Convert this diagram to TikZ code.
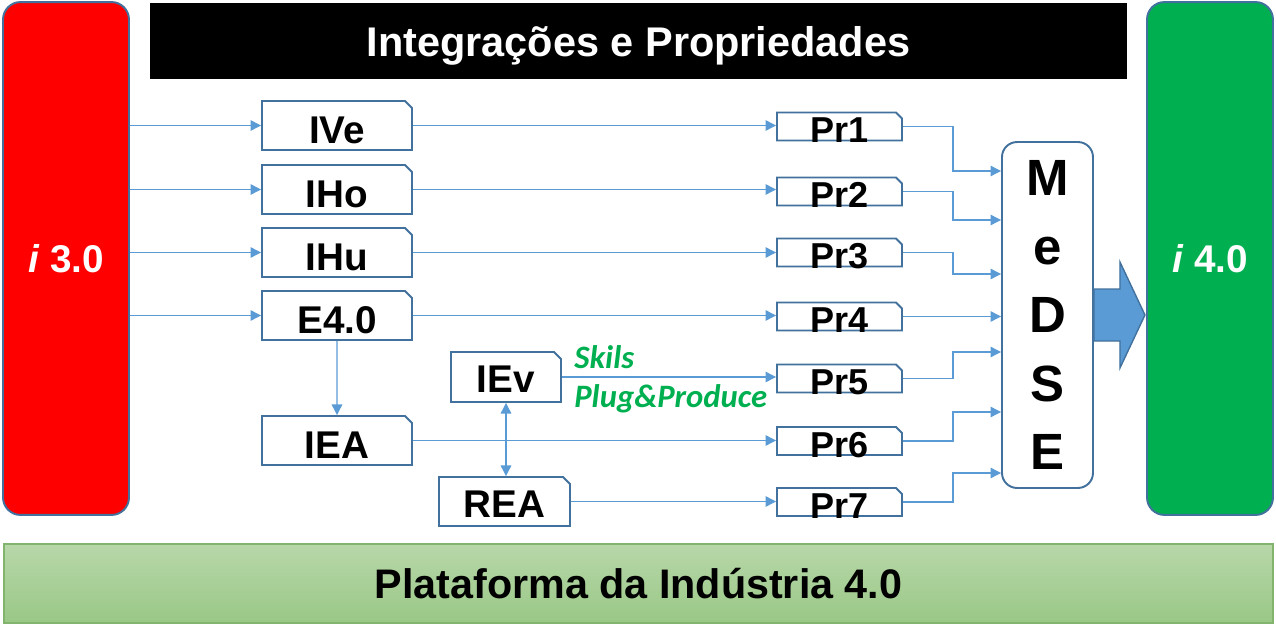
\documentclass[tikz,border=0pt]{standalone}
\usepackage{fontspec}
\setmainfont{Liberation Sans}
\newfontfamily\carlito{Carlito}
\usetikzlibrary{arrows.meta,shapes.misc}

\definecolor{edgeblue}{RGB}{65,113,156}
\definecolor{linkblue}{RGB}{91,155,213}
\definecolor{igreen}{RGB}{0,176,80}
\definecolor{basetop}{RGB}{184,215,169}
\definecolor{basebot}{RGB}{153,200,134}
\definecolor{baseedge}{RGB}{130,180,110}

% text sits low in the snipped boxes
\newcommand{\sunk}[2][0.36cm]{\raisebox{-#1}[0pt][0pt]{#2}}

\tikzset{
  pillar/.style={draw=edgeblue, line width=1.1pt, rounded corners=0.35cm,
    minimum width=2.52cm, minimum height=10.26cm, text=white, text depth=0pt,
    font=\fontsize{22}{26}\selectfont\bfseries},
  ibox/.style={draw=edgeblue, line width=1.1pt, fill=white,
    chamfered rectangle, chamfered rectangle corners=north east,
    chamfered rectangle xsep=0.14cm, chamfered rectangle ysep=0.14cm,
    minimum width=3cm, minimum height=0.98cm, inner ysep=0pt,
    font=\fontsize{22}{26}\selectfont\bfseries},
  prbox/.style={ibox, minimum width=2.5cm, minimum height=0.56cm,
    chamfered rectangle xsep=0.12cm, chamfered rectangle ysep=0.12cm,
    font=\fontsize{20.5}{24}\selectfont\bfseries},
  link/.style={draw=linkblue, line width=0.7pt, -{Triangle[length=6pt,width=6pt]}},
  note/.style={text=igreen, inner sep=0pt, anchor=west,
    font=\carlito\fontsize{18.6}{22}\selectfont\bfseries\itshape},
}

\begin{document}
\begin{tikzpicture}[x=0.02cm, y=-0.02cm]
  \useasboundingbox (0,0) rectangle (1276,635);

  \node[pillar, fill=red] (i30) at (66,258.5) {\textit{i}~3.0};
  \node[pillar, fill=igreen] (i40) at (1210,258.5) {\textit{i}~4.0};
  \node[fill=black, minimum width=19.54cm, minimum height=1.52cm, text=white,
    text depth=0pt, font=\fontsize{23.6}{28}\selectfont\bfseries] (title)
    at (638.5,41) {Integrações e Propriedades};
  \node[top color=basetop, bottom color=basebot, draw=baseedge, line width=0.8pt,
    minimum width=25.38cm, minimum height=1.58cm,
    font=\fontsize{23.5}{28}\selectfont\bfseries] (base) at (638.5,583.5)
    {Plataforma da Indústria 4.0};

  \node[ibox] (IVe) at (337,125.5) {\sunk{IVe}};
  \node[ibox] (IHo) at (337,189.5) {\sunk{IHo}};
  \node[ibox] (IHu) at (337,252.5) {\sunk{IHu}};
  \node[ibox] (E40) at (337,315.5) {\sunk{E4.0}};
  \node[ibox] (IEA) at (337,440.5) {\sunk{IEA}};
  \node[ibox, minimum width=2.2cm, minimum height=1cm] (IEv) at (506,377)
    {\sunk[0.32cm]{IEv}};
  \node[ibox, minimum width=2.62cm] (REA) at (504.5,501.5) {\sunk[0.32cm]{REA}};

  \foreach \k/\y in {1/126.5,2/191.5,3/252.5,4/316.5,5/378.5,6/441,7/502}
    \node[prbox] (Pr\k) at (839.5,\y) {\sunk[0.33cm]{Pr\k}};

  \node[draw=edgeblue, line width=1.1pt, rounded corners=0.3cm, fill=white,
    minimum width=1.82cm, minimum height=6.92cm, align=center,
    font=\fontsize{29}{39}\selectfont\bfseries] (MeDSE) at (1047.5,315)
    {M\\e\\D\\S\\E};

  % block arrow towards i 4.0
  \draw[draw=edgeblue, fill=linkblue, line width=0.8pt]
    (MeDSE.east) ++(0,-26) -- ++(26,0) -- ++(0,-27) -- ++(25,53)
    -- ++(-25,53) -- ++(0,-27) -- ++(-26,0) -- cycle;

  \node[note] (skils) at (574,357) {Skils};
  \node[note] (plug) at (574,399) {Plug\&Produce};

  \foreach \n in {IVe,IHo,IHu,E40}
    \draw[link] (\n.west -| i30.east) -- (\n.west);
  \foreach \a/\b in {IVe/Pr1,IHo/Pr2,IHu/Pr3,E40/Pr4,IEv/Pr5,IEA/Pr6,REA/Pr7}
    \draw[link] (\a.east) -- (\a.east -| \b.west);
  \draw[link] (E40) -- (IEA);
  \draw[link, {Triangle[length=6pt,width=6pt]}-{Triangle[length=6pt,width=6pt]}]
    (IEv.south) -- (IEv.south |- REA.north);

  % Pr boxes into MeDSE
  \foreach \k/\y in {1/171,2/220,3/274,4/316.5,5/352,6/412,7/473}
    \draw[link] (Pr\k.east) -- ++(50,0) |- (MeDSE.west |- 0,\y);
\end{tikzpicture}
\end{document}
